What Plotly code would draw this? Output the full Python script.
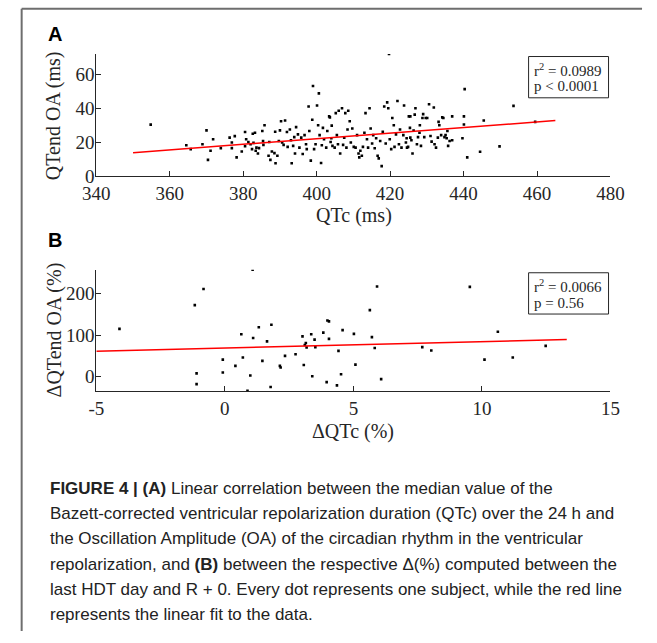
import plotly.graph_objects as go

# ---------------- Data: panel A (QTc vs QTend OA) ----------------
qtc_ms = [
    354.8, 364.5, 365.7, 368.9, 370.0, 370.4, 371.1, 371.8, 373.9, 376.3, 376.9, 377.7, 378.2, 376.9,
    379.6, 380.5, 380.5, 380.8, 381.4, 382.0, 382.6, 382.4, 382.8,
    383.2, 383.6, 383.4, 384.3, 384.0, 385.2, 385.4, 385.8, 385.5, 386.9, 387.1, 387.4, 387.8, 388.5,
    388.8, 388.7, 389.3, 389.7, 390.0, 390.3, 390.6, 391.0, 391.4, 391.9, 392.1, 392.7, 393.0, 393.2,
    393.6, 393.9, 394.1, 394.4, 394.9, 395.3, 395.8, 396.2, 396.7, 397.1, 397.3, 397.8, 398.0, 398.4,
    398.8, 399.0, 399.3, 399.7, 400.1, 400.4, 400.6, 400.8, 401.2, 401.4, 401.7, 402.0, 402.6, 402.9,
    403.4, 403.8, 404.1,
    403.6, 404.0, 404.3, 404.9, 405.2, 405.5, 405.8, 406.0, 406.4, 406.9, 407.2, 407.5, 407.8, 408.1,
    408.4, 408.6, 409.0, 409.3, 409.7, 410.1, 410.6, 411.0, 411.4, 411.6, 411.9, 412.3, 412.6, 413.0,
    413.3, 413.7, 414.0, 414.4, 414.7, 415.1, 415.4, 415.8, 416.2, 416.6, 416.9, 417.3, 417.7, 418.0,
    418.4, 418.8, 419.2, 419.5, 419.7, 419.9, 420.3, 420.6, 421.0, 421.2, 421.6, 422.0, 422.4, 422.7,
    423.1, 423.6, 423.8, 424.3, 424.6, 425.1, 425.5,
    424.5, 424.9, 425.4, 425.5, 425.8, 426.1, 426.4, 426.7, 426.9, 427.3, 427.6, 428.0, 428.1, 428.4,
    428.8, 429.0, 429.3, 429.7, 430.1, 430.6, 431.0, 431.3, 431.9, 432.1, 432.5, 433.0, 433.2, 433.4,
    433.9, 434.2, 434.5, 434.8, 435.1, 435.4, 435.6, 435.8, 436.2, 436.9, 436.9, 439.7, 440.1, 440.1,
    440.3, 441.0, 444.5, 445.5, 449.8, 453.6, 459.5,
]
qtend_oa_ms = [
    30.4, 18.2, 15.9, 18.8, 27.0, 9.5, 14.9, 21.7, 16.5, 22.7, 16.5, 23.6, 11.0, 19.8,
    14.5, 26.0, 17.6, 21.7, 20.1, 18.8, 25.0, 15.9, 19.6,
    25.6, 16.8, 14.9, 16.5, 13.3, 26.6, 20.7, 30.0, 18.4, 12.0, 20.1, 9.5, 14.5, 13.5,
    7.5, 26.2, 12.0, 20.7, 27.0, 32.4, 19.8, 18.4, 32.8, 26.0, 17.2, 27.5, 21.1, 7.5,
    17.8, 23.0, 13.3, 28.9, 24.6, 16.8, 22.7, 13.0, 24.2, 18.8, 15.9, 41.1, 26.6, 9.1,
    33.3, 53.3, 15.9, 18.8, 41.7, 30.0, 48.9, 24.2, 7.7, 18.2, 28.5, 21.7, 16.8, 26.6,
    35.3, 20.1, 29.8,
    34.7, 22.3, 17.8, 16.8, 37.2, 24.2, 18.8, 38.6, 13.3, 40.1, 18.4, 22.7, 37.2, 16.8,
    27.5, 38.6, 32.4, 19.8, 28.1, 17.2, 16.8, 24.2, 13.3, 11.0, 14.9, 12.0, 17.2, 25.6,
    37.2, 21.7, 16.8, 40.1, 28.1, 19.2, 24.2, 16.4, 22.3, 12.0, 10.4, 20.7, 5.8, 26.2,
    41.1, 19.2, 43.6, 40.1, 72.2, 21.7, 15.9, 34.3, 30.0, 17.2, 24.6, 44.4, 18.8, 27.5,
    16.8, 24.2, 41.7, 19.8, 16.8, 35.3, 22.7,
    22.3, 17.2, 28.5, 35.3, 21.1, 13.3, 26.9, 36.3, 40.1, 18.8, 23.0, 25.6, 30.0, 17.8,
    34.3, 36.6, 23.0, 34.3, 34.3, 42.5, 23.7, 20.3, 40.5, 18.8, 16.8, 22.7, 32.0, 30.0,
    24.2, 34.7, 34.3, 23.0, 24.2, 22.3, 26.6, 17.8, 20.7, 21.1, 35.3, 22.3, 35.3, 30.5,
    51.4, 11.0, 14.3, 32.8, 17.5, 41.5, 32.0,
]
fit_a_x = [350, 465]
fit_a_y = [13.8, 32.8]
ticks_a_x = [340, 360, 380, 400, 420, 440, 460, 480]
ticks_a_y = [0, 20, 40, 60]

# ---------------- Data: panel B (delta QTc vs delta QTend OA) ----------------
d_qtc = [
    -4.1, -1.17, -0.83, -1.1, -1.1, -0.08, -0.08, 0.41, 0.64, 0.7, 0.99, 1.08, 1.1, 1.32, 1.46,
    1.64, 1.81, 1.78, 2.14, 2.17, 2.34, 2.75, 3.02, 3.07, 3.11, 3.15, 3.18, 3.36, 3.4, 3.49, 3.52,
    3.83, 3.96, 3.99, 4.05, 4.05, 4.36, 4.42, 4.52, 4.58, 5.02, 5.08, 5.64, 5.72, 5.83, 5.92, 6.08,
    7.68, 8.03, 9.53, 10.1, 10.62, 11.2, 12.48, 0.88,
]
d_qtend_oa = [
    115, 172, 211, 8, -18, 41, 10, 26, 102, 46, 3, 257, 93, 119, 38,
    85, 125, -25, 26, 22, 50, 54, 97, 28, 76, 81, 70, 102, 1, 89, 71,
    106, -13, 135, 133, 91, -21, 62, 6, 112, 103, 29, 160, 95, 69, 217, -6,
    71, 63, 216, 41, 108, 46, 74, -34,
]
fit_b_x = [-5, 13.3]
fit_b_y = [61.0, 89.3]
ticks_b_x = [-5, 0, 5, 10, 15]
ticks_b_y = [0, 100, 200]

stats_a = ["r<sup>2</sup> = 0.0989", "p < 0.0001"]
stats_b = ["r<sup>2</sup> = 0.0066", "p = 0.56"]

caption_lines = [
    "<b>FIGURE 4 | (A)</b> Linear correlation between the median value of the",
    "Bazett-corrected ventricular repolarization duration (QTc) over the 24 h and",
    "the Oscillation Amplitude (OA) of the circadian rhythm in the ventricular",
    "repolarization, and <b>(B)</b> between the respective \u0394(%) computed between the",
    "last HDT day and R + 0. Every dot represents one subject, while the red line",
    "represents the linear fit to the data.",
]

# ---------------- Layout helpers (pixel -> paper) ----------------
W, H = 657, 643
def px(x):
    return x / W
def py(y):
    return 1 - y / H

AX = "#262626"
SERIF = "Liberation Serif"

fig = go.Figure()
fig.add_trace(go.Scatter(x=qtc_ms, y=qtend_oa_ms, mode="markers",
                         marker=dict(symbol="square", size=2.6, color="black"),
                         xaxis="x", yaxis="y", showlegend=False, hoverinfo="skip"))
fig.add_trace(go.Scatter(x=fit_a_x, y=fit_a_y, mode="lines",
                         line=dict(color="#ff0000", width=1.5),
                         xaxis="x", yaxis="y", showlegend=False, hoverinfo="skip"))
fig.add_trace(go.Scatter(x=d_qtc, y=d_qtend_oa, mode="markers",
                         marker=dict(symbol="square", size=2.6, color="black"),
                         xaxis="x2", yaxis="y2", showlegend=False, hoverinfo="skip"))
fig.add_trace(go.Scatter(x=fit_b_x, y=fit_b_y, mode="lines",
                         line=dict(color="#ff0000", width=1.5),
                         xaxis="x2", yaxis="y2", showlegend=False, hoverinfo="skip"))

axis_common = dict(showline=True, linecolor=AX, linewidth=1, ticks="inside", ticklen=5,
                   tickcolor=AX, tickwidth=1, showgrid=False, zeroline=False, mirror=False,
                   tickfont=dict(family=SERIF, size=19, color=AX))

def labels(vals):
    return [str(v) for v in vals]

fig.update_layout(
    width=W, height=H, margin=dict(l=0, r=0, t=0, b=0),
    paper_bgcolor="white", plot_bgcolor="white",
    xaxis=dict(domain=[px(86), px(623)], range=[340, 480], tickvals=ticks_a_x, ticktext=labels(ticks_a_x),
               anchor="y", **axis_common),
    yaxis=dict(domain=[py(179), py(55)], range=[0, 72.2], tickvals=ticks_a_y, ticktext=labels(ticks_a_y),
               anchor="x", ticklabelstandoff=-3, **axis_common),
    xaxis2=dict(domain=[px(86), px(623)], range=[-5, 15], tickvals=ticks_b_x, ticktext=labels(ticks_b_x),
                anchor="y2", **axis_common),
    yaxis2=dict(domain=[py(398.3), py(274.5)], range=[-35.6, 257], tickvals=ticks_b_y, ticktext=labels(ticks_b_y),
                anchor="x2", ticklabelstandoff=-3, **axis_common),
)

shapes = [
    # outer frame (top and left)
    dict(type="line", xref="paper", yref="paper", x0=px(8), x1=px(656), y0=py(9), y1=py(9),
         line=dict(color="#6e6e6e", width=2)),
    dict(type="line", xref="paper", yref="paper", x0=px(8), x1=px(8), y0=py(9), y1=py(642),
         line=dict(color="#6e6e6e", width=2)),
    # stats boxes
    dict(type="rect", xref="paper", yref="paper", x0=px(537.5), x1=px(621), y0=py(99.5), y1=py(57.5),
         line=dict(color=AX, width=1), fillcolor="white"),
    dict(type="rect", xref="paper", yref="paper", x0=px(537.5), x1=px(621), y0=py(319.5), y1=py(277.5),
         line=dict(color=AX, width=1), fillcolor="white"),
]
fig.update_layout(shapes=shapes)

ann = []
def txt(text, x, y, size, family=SERIF, color=AX, xanchor="center", yanchor="middle", angle=0):
    ann.append(dict(text=text, x=px(x), y=py(y), xref="paper", yref="paper", showarrow=False,
                    xanchor=xanchor, yanchor=yanchor, textangle=angle, align="left",
                    font=dict(family=family, size=size, color=color)))

# panel letters
txt("<b>A</b>", 33, 35, 20, family="Liberation Sans", color="black", xanchor="left")
txt("<b>B</b>", 33, 244, 20, family="Liberation Sans", color="black", xanchor="left")
# axis titles
txt("QTc (ms)", 355, 219, 20)
txt("QTend OA (ms)", 42, 118, 20, angle=-90)
txt("\u0394QTc (%)", 354, 439, 20)
txt("\u0394QTend OA (%)", 42, 336, 20, angle=-90)
# stats
txt(stats_a[0], 541, 71, 15, xanchor="left")
txt(stats_a[1], 541, 88, 15, xanchor="left")
txt(stats_b[0], 541, 291, 15, xanchor="left")
txt(stats_b[1], 541, 308, 15, xanchor="left")
# caption
cap_y = [497, 522.5, 548, 574, 599.5, 625]
for line, yy in zip(caption_lines, cap_y):
    txt(line, 35, yy, 17, family="Liberation Sans", color="#222222", xanchor="left")

fig.update_layout(annotations=ann, hovermode=False)
fig.write_html(
    "out.html",
    config={"displayModeBar": False, "staticPlot": True},
    post_script="document.body.style.margin='0';document.body.style.padding='0';",
)
